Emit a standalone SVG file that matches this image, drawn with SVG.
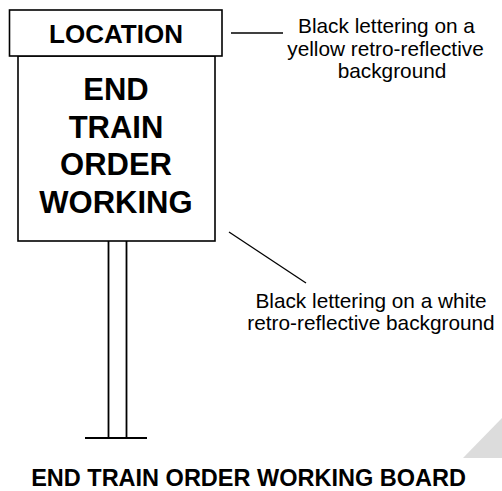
<svg xmlns="http://www.w3.org/2000/svg" width="502" height="491" viewBox="0 0 502 491">
<style>
.box{fill:#fff;stroke:#000;stroke-width:1.6}
.ln{stroke:#000;stroke-width:1.3;fill:none}
.post{stroke:#000;stroke-width:1.8;fill:none}
.sb{font-family:"Liberation Sans",Arial,sans-serif;font-weight:bold;fill:#000;text-anchor:middle}
.note{font-family:"Liberation Sans",Arial,sans-serif;font-size:20.8px;fill:#000;text-anchor:middle}
</style>
<rect width="502" height="491" fill="#fff"/>
<polygon points="463,458 502,458 502,418" fill="#dcdcdc"/>
<g id="post">
<line class="post" x1="108.5" y1="241" x2="108.5" y2="438"/>
<line class="post" x1="126.5" y1="241" x2="126.5" y2="438"/>
<line class="post" x1="85" y1="438" x2="147" y2="438"/>
</g>
<g id="board">
<rect class="box" x="18" y="56" width="197" height="185"/>
<text class="sb" x="116" y="100" font-size="31">END</text>
<text class="sb" x="116" y="137.5" font-size="31">TRAIN</text>
<text class="sb" x="116" y="175" font-size="31">ORDER</text>
<text class="sb" x="116" y="212.5" font-size="31">WORKING</text>
</g>
<g id="location">
<rect class="box" x="9.5" y="10" width="212.5" height="46"/>
<text class="sb" x="116" y="43" font-size="26">LOCATION</text>
</g>
<g id="connectors">
<line class="ln" x1="231" y1="33" x2="283" y2="33"/>
<line class="ln" x1="229" y1="232" x2="306" y2="283"/>
</g>
<g id="note-yellow">
<text class="note" x="386.5" y="33">Black lettering on a</text>
<text class="note" x="385.5" y="55.5">yellow retro-reflective</text>
<text class="note" x="392" y="78">background</text>
</g>
<g id="note-white">
<text class="note" x="371" y="308">Black lettering on a white</text>
<text class="note" x="371" y="330">retro-reflective background</text>
</g>
<g id="title">
<text class="sb" x="248.5" y="486" font-size="23.5">END TRAIN ORDER WORKING BOARD</text>
</g>
</svg>
